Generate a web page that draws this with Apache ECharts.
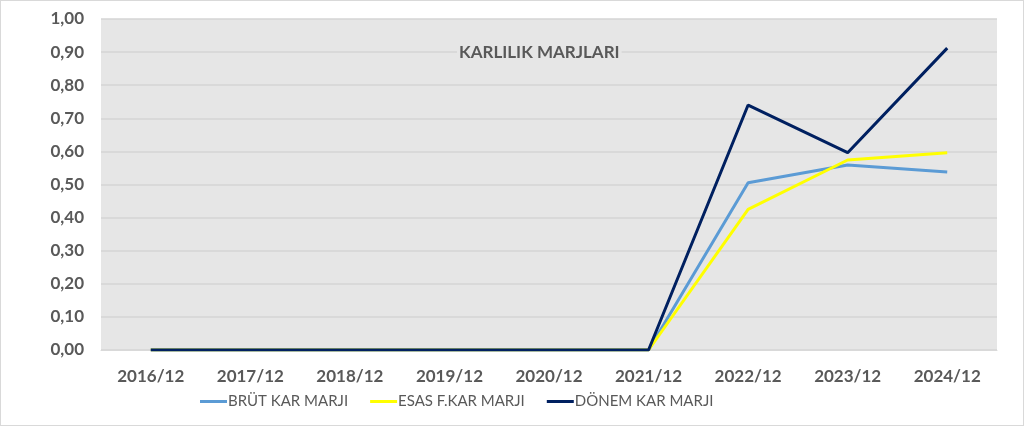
<!DOCTYPE html>
<html>
<head>
<meta charset="utf-8">
<script src="https://cdn.jsdelivr.net/npm/echarts@6/dist/echarts.min.js"></script>
<style>
  html, body { margin: 0; padding: 0; background: #fff; }
  #wrap { width: 1022px; height: 424px; border: 1px solid #d9d9d9; }
</style>
</head>
<body>
<div id="wrap"></div>
<script>
  // donemler
  const dateList = ['2016/12', '2017/12', '2018/12', '2019/12', '2020/12', '2021/12', '2022/12', '2023/12', '2024/12']
  const brutList = [0, 0, 0, 0, 0, 0, 0.505, 0.559, 0.538]
  const esasList = [0, 0, 0, 0, 0, 0, 0.425, 0.574, 0.596]
  const donemList = [0, 0, 0, 0, 0, 0, 0.740, 0.596, 0.912]

  const mychart = echarts.init(document.getElementById('wrap'))
  const labelColor = '#595959'
  const font = 'Lato, "Open Sans", sans-serif'

  mychart.setOption({
    animation: false,
    title: {
      text: 'KARLILIK MARJLARI',
      left: 456,
      top: 40,
      padding: [3, 2],
      backgroundColor: '#e6e6e6',
      textStyle: {
        fontFamily: font,
        fontSize: 17,
        fontWeight: 'bold',
        color: labelColor
      }
    },
    legend: {
      data: ['BRÜT KAR MARJI', 'ESAS F.KAR MARJI', 'DÖNEM KAR MARJI'],
      left: 194,
      top: 388,
      icon: 'rect',
      itemWidth: 27,
      itemHeight: 3,
      itemGap: 22,
      textStyle: {
        fontFamily: font,
        fontSize: 15,
        color: labelColor,
        padding: [0, 0, 0, -4]
      }
    },
    grid: {
      left: 100,
      right: 26,
      top: 18,
      bottom: 75,
      show: true,
      backgroundColor: '#e6e6e6',
      borderWidth: 0
    },
    xAxis: {
      type: 'category',
      data: dateList,
      boundaryGap: true,
      axisTick: { show: false },
      axisLine: { lineStyle: { color: '#d9d9d9', width: 1 } },
      axisLabel: {
        margin: 18,
        fontFamily: font,
        fontSize: 17,
        fontWeight: 'bold',
        color: labelColor
      }
    },
    yAxis: {
      type: 'value',
      min: 0,
      max: 1,
      interval: 0.1,
      axisLine: { show: false },
      axisTick: { show: false },
      splitLine: { lineStyle: { color: '#d4d4d4', width: 1.5 } },
      axisLabel: {
        margin: 17,
        fontFamily: font,
        fontSize: 17,
        fontWeight: 'bold',
        color: labelColor,
        formatter: v => v.toFixed(2).replace('.', ',')
      }
    },
    series: [
      {
        type: 'line',
        name: 'BRÜT KAR MARJI',
        showSymbol: false,
        lineStyle: { width: 3, color: '#5b9bd5' },
        itemStyle: { color: '#5b9bd5' },
        data: brutList
      },
      {
        type: 'line',
        name: 'ESAS F.KAR MARJI',
        showSymbol: false,
        lineStyle: { width: 3, color: '#ffff00' },
        itemStyle: { color: '#ffff00' },
        data: esasList
      },
      {
        type: 'line',
        name: 'DÖNEM KAR MARJI',
        showSymbol: false,
        lineStyle: { width: 3, color: '#002060' },
        itemStyle: { color: '#002060' },
        data: donemList
      }
    ]
  })
</script>
</body>
</html>
